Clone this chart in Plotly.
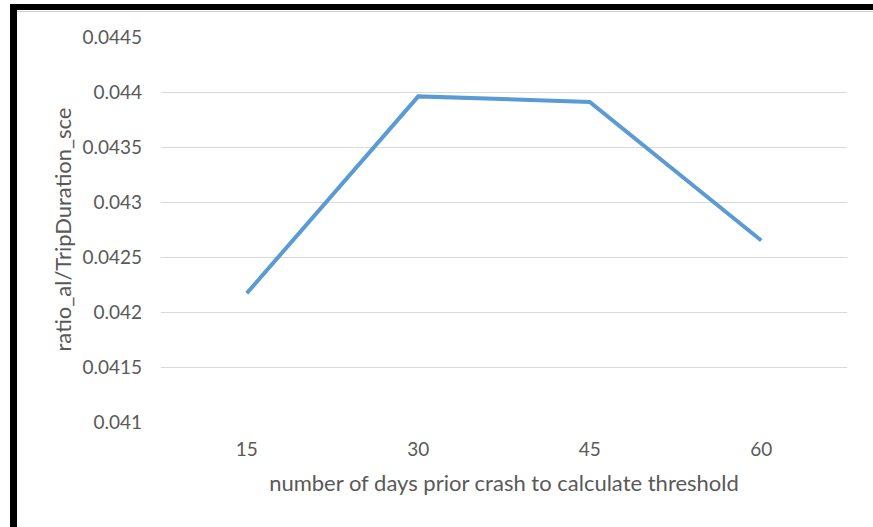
import plotly.graph_objects as go

# Days of history used to compute the threshold, and the resulting ratio
days = ["15", "30", "45", "60"]
ratio = [0.04217, 0.04396, 0.04391, 0.04265]

y_ticks = [0.041, 0.0415, 0.042, 0.0425, 0.043, 0.0435, 0.044, 0.0445]
y_tick_text = ["0.041", "0.0415", "0.042", "0.0425", "0.043", "0.0435", "0.044", "0.0445"]

W, H = 873, 527
L, R, T, B = 161, 26, 37, 105
pw, ph = W - L - R, H - T - B


def px_x(p):
    return (p - L) / pw


def px_y(p):
    return (H - B - p) / ph


font_family = "Lato, 'Open Sans', sans-serif"
grey = "#595959"

fig = go.Figure()
fig.add_trace(go.Scatter(
    x=days, y=ratio, mode="lines",
    line=dict(color="#5B9BD5", width=4),
    hoverinfo="x+y",
))

fig.update_layout(
    width=W, height=H,
    margin=dict(l=L, r=R, t=T, b=B),
    paper_bgcolor="white", plot_bgcolor="white",
    showlegend=False,
    font=dict(family=font_family, color=grey),
    xaxis=dict(
        type="category", range=[-0.5, 3.5],
        showgrid=False, zeroline=False, showline=False,
        ticks="", tickfont=dict(size=19, color=grey),
        ticklabelstandoff=14,
        title=dict(text="number of days prior crash to calculate threshold",
                   font=dict(size=22, color=grey), standoff=16),
    ),
    yaxis=dict(
        range=[0.041, 0.0445],
        tickvals=y_ticks, ticktext=y_tick_text,
        showgrid=True, gridcolor="#d9d9d9", gridwidth=1,
        zeroline=False, showline=False, ticks="",
        tickfont=dict(size=19, color=grey),
        ticklabelstandoff=18,
        title=dict(text="ratio_al/TripDuration_sce",
                   font=dict(size=22, color=grey), standoff=4),
    ),
    shapes=[
        # black frame: top band and left bar
        dict(type="rect", xref="paper", yref="paper",
             x0=px_x(10), x1=px_x(W + 2), y0=px_y(10), y1=px_y(4),
             fillcolor="black", line=dict(width=0), layer="above"),
        dict(type="rect", xref="paper", yref="paper",
             x0=px_x(10), x1=px_x(17), y0=px_y(H + 2), y1=px_y(4),
             fillcolor="black", line=dict(width=0), layer="above"),
        # faint inner edge of the chart area
        dict(type="line", xref="paper", yref="paper",
             x0=px_x(17), x1=px_x(W), y0=px_y(11.5), y1=px_y(11.5),
             line=dict(color="#d0d0d0", width=1), layer="above"),
    ],
)

fig.write_html("out.html")
